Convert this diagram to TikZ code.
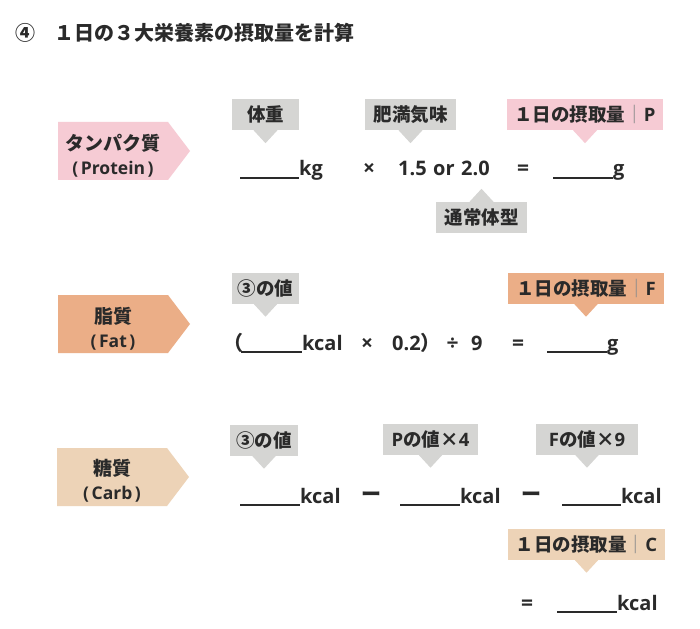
\documentclass[tikz,border=0pt]{standalone}
\usepackage{fontspec}
\setmainfont{Noto Sans CJK JP}
\newfontfamily\latf{Open Sans}
\newfontfamily\jpf{Noto Sans CJK JP}
\usetikzlibrary{calc}
\definecolor{txt}{HTML}{2A2A2A}
\definecolor{callgrey}{HTML}{D5D5D3}
\definecolor{pinkc}{HTML}{F6CBD4}
\definecolor{fatc}{HTML}{EBAE87}
\definecolor{carbc}{HTML}{EDD3B7}
\definecolor{sepc}{HTML}{8C8C8C}
\newcommand\ptrdown[2]{\fill[#2] ([xshift=-12pt]#1.south) -- ([xshift=12pt]#1.south) -- ([yshift=-13pt]#1.south) -- cycle;}
\newcommand\ptrup[2]{\fill[#2] ([xshift=-12pt]#1.north) -- ([xshift=12pt]#1.north) -- ([yshift=13pt]#1.north) -- cycle;}
\newcommand\sublabel[1]{{\latf\fontsize{17.5}{24}\selectfont\bfseries (\hspace{2.5pt}#1\hspace{2.5pt})}}
\begin{document}
\begin{tikzpicture}[x=1pt,y=-1pt,
  every node/.style={text=txt, inner sep=0pt},
  callout/.style={fill=callgrey, minimum height=31pt, inner sep=0pt, text height=16.28pt, text depth=2.22pt, font=\fontsize{18.5}{18.5}\selectfont\bfseries},
  eq/.style={anchor=base west, font=\fontsize{20}{20}\selectfont\bfseries\latf},
  op/.style={anchor=base, font=\fontsize{20}{20}\selectfont\bfseries},
  lop/.style={anchor=base, font=\fontsize{21}{21}\selectfont\bfseries\latf},
  blank/.style={draw=txt, line width=1.6pt},
  tag/.style={align=center, font=\fontsize{19}{24}\selectfont\bfseries},
  ttl/.style={font=\fontsize{20}{20}\selectfont\bfseries},
]
\fill[white] (0,0) rectangle (700,628);
\useasboundingbox (0,0) rectangle (700,628);
% title
\node[ttl, anchor=center] (num) at (25,33) {④};
\node[ttl, anchor=west] (title) at (54,33) {１日の３大栄養素の摂取量を計算};
% ---------- Protein
\fill[pinkc] (58,122) -- (168,122) -- (190,151) -- (168,180) -- (58,180) -- cycle;
\node[tag] (protein) at (113,156) {タンパク質\\\sublabel{Protein}};
\node[callout, minimum width=67pt] (weight) at (265.5,114.5) {体重};
\ptrdown{weight}{callgrey}
\node[callout, minimum width=91pt] (obese) at (410.5,114.5) {肥満気味};
\ptrdown{obese}{callgrey}
\node[callout, fill=pinkc, minimum width=156pt] (pday) at (585,114.5) {１日の摂取量{\color{sepc}｜}{\latf P}};
\ptrdown{pday}{pinkc}
\node[callout, minimum width=91pt] (normal) at (481.5,217.5) {通常体型};
\ptrup{normal}{callgrey}
\draw[blank] (240,178) -- (299,178);
\node[eq] (kg) at (299,176) {kg};
\node[lop] (x1) at (369,176) {×};
\node[eq] (n15) at (398,176) {1.5};
\node[eq] (or) at (433,176) {or};
\node[eq] (n20) at (461,176) {2.0};
\node[lop] (eq1) at (523,176) {=};
\draw[blank] (553,178) -- (613,178);
\node[eq] (g1) at (613,176) {g};
% ---------- Fat
\fill[fatc] (58,295) -- (168,295) -- (190,324) -- (168,353) -- (58,353) -- cycle;
\node[tag] (fat) at (113,329) {脂質\\\sublabel{Fat}};
\node[callout, minimum width=67pt] (v3a) at (265.5,288) {③の値};
\ptrdown{v3a}{callgrey}
\node[callout, fill=fatc, minimum width=156pt] (fday) at (586,288) {１日の摂取量{\color{sepc}｜}{\latf F}};
\ptrdown{fday}{fatc}
\node[anchor=base east, font=\fontsize{20}{20}\selectfont\bfseries] (lp) at (244,350) {（};
\draw[blank] (241,352) -- (302,352);
\node[eq] (kcal1) at (302,350) {kcal};
\node[lop] (x2) at (367,350) {×};
\node[eq] (n02) at (392,350) {0.2{\jpf\bfseries ）}};
\node[lop] (div) at (452.5,350) {÷};
\node[eq] (n9) at (471,350) {9};
\node[lop] (eq2) at (518,350) {=};
\draw[blank] (547,352) -- (607,352);
\node[eq] (g2) at (607,350) {g};
% ---------- Carb
\fill[carbc] (57,448) -- (167,448) -- (189,477) -- (167,506) -- (57,506) -- cycle;
\node[tag] (carb) at (112,481) {糖質\\\sublabel{Carb}};
\node[callout, minimum width=68pt] (v3b) at (264,440) {③の値};
\ptrdown{v3b}{callgrey}
\node[callout, minimum width=95pt] (p4) at (430.5,439) {{\latf P}の値×{\latf 4}};
\ptrdown{p4}{callgrey}
\node[callout, minimum width=102pt] (f9) at (587,439) {{\latf F}の値×{\latf 9}};
\ptrdown{f9}{callgrey}
\draw[blank] (240,505) -- (300,505);
\node[eq] (kcal2) at (300,503) {kcal};
\node[op] (m1) at (371,501) {ー};
\draw[blank] (400,505) -- (460,505);
\node[eq] (kcal3) at (460,503) {kcal};
\node[op] (m2) at (531,501) {ー};
\draw[blank] (562,505) -- (621,505);
\node[eq] (kcal4) at (621,503) {kcal};
\node[callout, fill=carbc, minimum width=157pt] (cday) at (586.5,544) {１日の摂取量{\color{sepc}｜}{\latf C}};
\ptrdown{cday}{carbc}
\node[lop] (eq3) at (527,610) {=};
\draw[blank] (557,612) -- (617,612);
\node[eq] (kcal5) at (617,610) {kcal};
\end{tikzpicture}
\end{document}
